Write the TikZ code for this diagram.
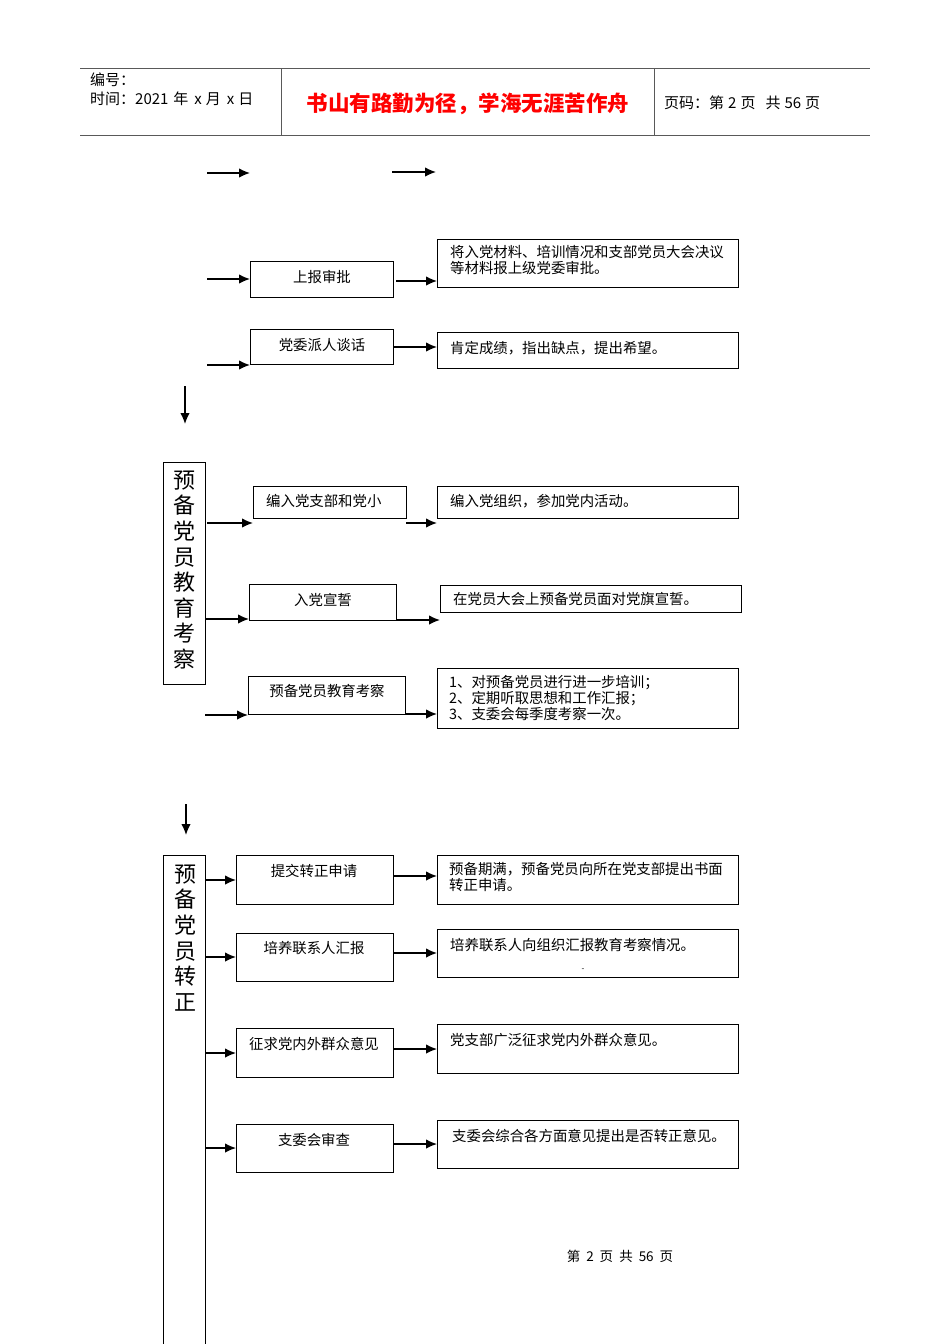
\documentclass[tikz,border=0pt]{standalone}
\usepackage{fontspec}
\setmainfont{Noto Sans CJK SC}
\usetikzlibrary{arrows.meta}
\tikzset{
  box/.style={draw, line width=1.3pt, anchor=north west, inner sep=0pt},
  conn/.style={line width=1.3pt, -{Latex[length=11pt,width=9.5pt]}},
  txt/.style={font=\fontsize{14.4}{16}\selectfont, inner sep=0pt},
  rtxt/.style={txt, anchor=west, align=left},
  vtxt/.style={font=\fontsize{22}{25.6}\selectfont, inner sep=0pt, align=center},
  hdr/.style={font=\fontsize{15}{18}\selectfont, inner sep=0pt, anchor=west},
  rule/.style={draw=black!65, line width=1pt},
}
\newcommand\bx[5]{\node[box, minimum width=\fpeval{#4-#2}pt, minimum height=\fpeval{#5-#3}pt] (#1) at (#2,#3) {};}
\begin{document}
\begin{tikzpicture}[x=1pt,y=-1pt]
\useasboundingbox (0,0) rectangle (950,1344);
% header
\draw[rule] (80,68) -- (870,68);
\draw[rule] (80,135) -- (870,135);
\draw[rule] (281,68) -- (281,135);
\draw[rule] (654,68) -- (654,135);
\node[hdr] (h1) at (90,80) {编号：};
\node[hdr] (h2) at (90,99) {时间：2021\hspace{5pt}年\hspace{6pt}x\hspace{4pt}月\hspace{6pt}x\hspace{4pt}日};
\node[font=\fontsize{21.5}{24}\bfseries\selectfont, text=red, inner sep=0pt] (title) at (468,104) {书山有路勤为径，学海无涯苦作舟};
\node[hdr] (h3) at (664,103) {页码：第\hspace{4pt}2\hspace{4pt}页\hspace{10pt}共\hspace{4pt}56\hspace{4pt}页};

% top stray arrows
\coordinate (t1a) at (207,173); \coordinate (t1b) at (250,173);
\coordinate (t2a) at (392,172); \coordinate (t2b) at (436,172);
\draw[conn] (t1a) -- (t1b);
\draw[conn] (t2a) -- (t2b);

% section 1
\bx{a1}{250}{261}{393}{297}
\node[txt] (a1t) at (322,277) {上报审批};
\bx{ra1}{437}{239}{738}{287}
\node[rtxt] (ra1t) at (450,260) {将入党材料、培训情况和支部党员大会决议\\等材料报上级党委审批。};
\coordinate (ia1) at (207,279);
\draw[conn] (ia1) -- (a1.west |- ia1);
\coordinate (oa1) at (396,281);
\draw[conn] (oa1) -- (ra1.west |- oa1);

\bx{a2}{250}{329}{393}{364}
\node[txt] (a2t) at (322,345) {党委派人谈话};
\bx{ra2}{437}{332}{738}{368}
\node[rtxt] (ra2t) at (450,348) {肯定成绩，指出缺点，提出希望。};
\coordinate (ia2) at (207,365);
\draw[conn] (ia2) -- (a2.west |- ia2);
\coordinate (oa2) at (393,347);
\draw[conn] (oa2) -- (ra2.west |- oa2);

% down arrow 1
\coordinate (d1a) at (185,386);
\bx{bar1}{163}{462}{205}{684}
\coordinate (d1b) at (185,424);
\draw[conn] (d1a) -- (d1b);
\node[vtxt] (bar1t) at (184,570) {预\\备\\党\\员\\教\\育\\考\\察};

% section 2
\bx{b1}{253}{486}{406}{518}
\node[rtxt] (b1t) at (266,501) {编入党支部和党小};
\bx{rb1}{437}{486}{738}{518}
\node[rtxt] (rb1t) at (450,501) {编入党组织，参加党内活动。};
\coordinate (ib1) at (207,523);
\draw[conn] (ib1) -- (b1.west |- ib1);
\coordinate (ob1) at (406,523);
\draw[conn] (ob1) -- (rb1.west |- ob1);

\bx{b2}{249}{584}{396}{620}
\node[txt] (b2t) at (323,600) {入党宣誓};
\bx{rb2}{440}{585}{741}{612}
\node[rtxt] (rb2t) at (453,599) {在党员大会上预备党员面对党旗宣誓。};
\draw[conn] (bar1.east |- 0,619) -- (b2.west |- 0,619);
\draw[conn] (b2.east |- 0,620) -- (rb2.west |- 0,620);

\bx{b3}{248}{676}{405}{714}
\node[txt] (b3t) at (327,691) {预备党员教育考察};
\bx{rb3}{437}{668}{738}{728}
\node[rtxt] (rb3t) at (449,698) {1、对预备党员进行进一步培训；\\2、定期听取思想和工作汇报；\\3、支委会每季度考察一次。};
\coordinate (ib3) at (205,715);
\draw[conn] (ib3) -- (b3.west |- ib3);
\draw[conn] (b3.east |- 0,714) -- (rb3.west |- 0,714);

% down arrow 2
\coordinate (d2a) at (186,804);
\coordinate (d2b) at (186,835);
\draw[conn] (d2a) -- (d2b);

% section 3
\bx{bar2}{163}{855}{205}{1380}
\node[vtxt] (bar2t) at (185,938) {预\\备\\党\\员\\转\\正};

\bx{c1}{236}{855}{393}{904}
\node[txt] (c1t) at (314,871) {提交转正申请};
\bx{rc1}{437}{855}{738}{904}
\node[rtxt] (rc1t) at (449,877) {预备期满，预备党员向所在党支部提出书面\\转正申请。};
\draw[conn] (bar2.east |- 0,880) -- (c1.west |- 0,880);
\draw[conn] (c1.east |- 0,876) -- (rc1.west |- 0,876);

\bx{c2}{236}{933}{393}{981}
\node[txt] (c2t) at (314,948) {培养联系人汇报};
\bx{rc2}{437}{929}{738}{977}
\node[rtxt] (rc2t) at (450,945) {培养联系人向组织汇报教育考察情况。};
\node[txt, font=\fontsize{8}{8}\selectfont] (rc2m) at (583,970) {-};
\draw[conn] (bar2.east |- 0,957) -- (c2.west |- 0,957);
\draw[conn] (c2.east |- 0,953) -- (rc2.west |- 0,953);

\bx{c3}{236}{1028}{393}{1077}
\node[txt] (c3t) at (314,1044) {征求党内外群众意见};
\bx{rc3}{437}{1024}{738}{1073}
\node[rtxt] (rc3t) at (450,1040) {党支部广泛征求党内外群众意见。};
\draw[conn] (bar2.east |- 0,1053) -- (c3.west |- 0,1053);
\draw[conn] (c3.east |- 0,1049) -- (rc3.west |- 0,1049);

\bx{c4}{236}{1124}{393}{1172}
\node[txt] (c4t) at (314,1140) {支委会审查};
\bx{rc4}{437}{1120}{738}{1168}
\node[rtxt] (rc4t) at (452,1136) {支委会综合各方面意见提出是否转正意见。};
\draw[conn] (bar2.east |- 0,1148) -- (c4.west |- 0,1148);
\draw[conn] (c4.east |- 0,1144) -- (rc4.west |- 0,1144);

% footer
\node[txt, font=\fontsize{13.5}{15}\selectfont] (foot) at (620,1256) {第\hspace{6pt}2\hspace{6pt}页\hspace{6pt}共\hspace{6pt}56\hspace{6pt}页};
\end{tikzpicture}
\end{document}
